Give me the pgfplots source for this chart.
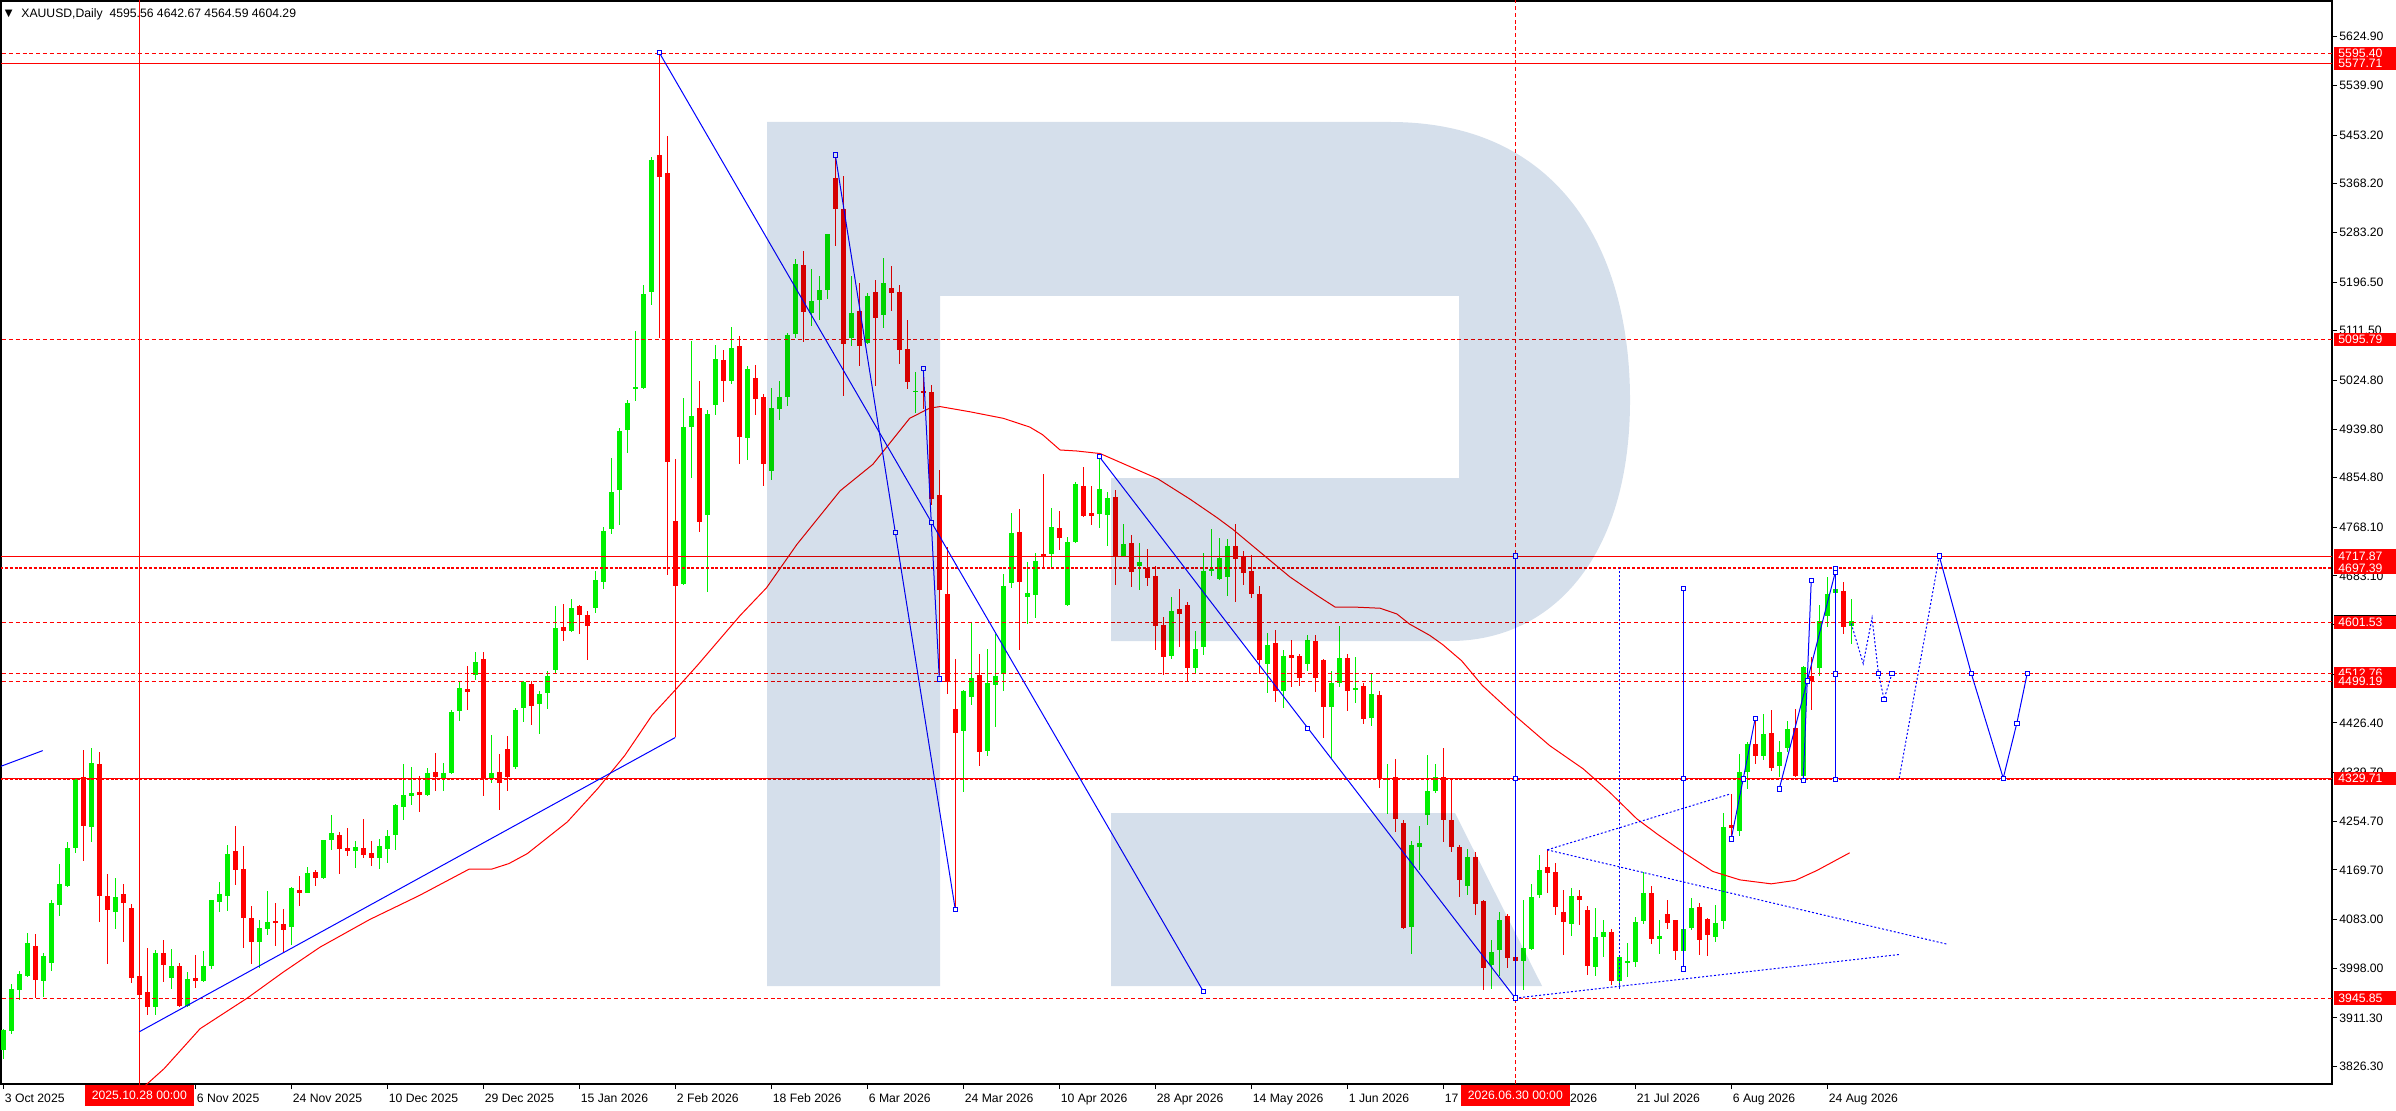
\documentclass[border=0pt]{standalone}
\usepackage{fontspec}
\setmainfont{Liberation Sans}
\newfontfamily\dejavu{DejaVu Sans}
\usepackage{pgfplots}
\usepackage{pgfplotstable}
\pgfplotsset{compat=1.18}

\definecolor{upc}{RGB}{0,240,0}
\definecolor{dnc}{RGB}{255,0,0}
\definecolor{wm}{RGB}{213,223,235}
\definecolor{lvl}{RGB}{255,0,0}
\definecolor{bl}{RGB}{0,0,255}
\newcommand\tf{\fontsize{6.1}{7.3}\selectfont}

% daily candles, bar index from 3 Oct 2025
\pgfplotstableread{
i o h l c
0 3854.6 3892.4 3838.9 3889.5
1 3887.7 3970.9 3883.7 3962.2
2 3959.3 3992.4 3941.8 3988.3
3 3983.7 4059.9 3982.0 4042.4
4 4037.2 4058.1 3945.9 3976.7
5 3975.0 4023.8 3947.0 4019.7
6 4006.4 4118.0 3992.4 4112.2
7 4109.3 4180.3 4090.1 4145.4
8 4141.9 4218.6 4139.5 4208.2
9 4208.2 4330.0 4200.0 4328.6
10 4332.1 4379.2 4186.1 4247.1
11 4245.4 4382.7 4218.6 4356.5
12 4354.8 4375.1 4079.6 4125.0
13 4124.4 4162.8 4005.2 4100.6
14 4095.4 4155.8 4065.7 4122.7
15 4127.9 4145.4 4043.0 4112.8
16 4103.5 4110.5 3971.4 3980.2
17 3984.8 3988.0 3947.6 3950.5
18 3956.9 4032.5 3915.6 3929.6
19 3929.6 4029.0 3915.6 4025.5
20 4025.0 4047.7 3973.8 4002.9
21 3980.2 4031.9 3962.2 4002.3
22 4002.3 4007.5 3929.6 3932.5
23 3931.3 3991.8 3929.6 3979.6
24 3981.4 4021.5 3963.9 3976.1
25 3976.1 4028.5 3974.4 4002.3
26 4001.1 4117.5 3997.1 4117.5
27 4114.0 4148.9 4096.5 4127.9
28 4124.4 4213.4 4098.8 4197.7
29 4202.9 4246.5 4143.6 4170.4
30 4171.5 4211.7 4032.5 4084.9
31 4086.0 4107.0 4005.8 4044.2
32 4043.0 4082.5 3998.2 4068.6
33 4067.4 4133.1 4055.2 4079.1
34 4080.8 4112.2 4037.2 4077.3
35 4075.6 4101.8 4025.0 4065.1
36 4070.9 4140.1 4038.9 4138.4
37 4134.9 4159.3 4107.0 4130.2
38 4130.2 4175.0 4129.7 4164.6
39 4166.3 4169.8 4141.9 4155.8
40 4155.8 4222.1 4154.1 4222.1
41 4222.1 4266.3 4204.7 4234.9
42 4230.9 4236.1 4162.8 4207.0
43 4208.2 4243.1 4194.2 4203.5
44 4203.5 4220.4 4173.3 4209.9
45 4208.2 4258.8 4190.7 4196.6
46 4200.0 4220.3 4176.1 4190.7
47 4191.3 4224.4 4170.9 4211.0
48 4207.0 4240.1 4181.4 4229.1
49 4230.2 4285.5 4204.1 4283.8
50 4279.1 4355.3 4256.4 4301.2
51 4299.4 4350.3 4283.3 4303.9
52 4305.6 4334.2 4271.7 4301.1
53 4301.1 4348.4 4299.0 4338.6
54 4340.4 4374.3 4308.3 4331.5
55 4329.7 4356.5 4308.3 4338.6
56 4338.6 4448.4 4336.9 4445.8
57 4446.6 4497.5 4430.6 4486.8
58 4485.9 4526.1 4448.4 4479.7
59 4510.9 4551.1 4502.0 4533.2
60 4537.7 4551.1 4299.4 4328.0
61 4330.6 4405.6 4321.7 4338.6
62 4341.3 4372.5 4274.4 4321.7
63 4381.5 4403.8 4308.3 4332.4
64 4350.3 4452.9 4345.8 4448.4
65 4452.0 4499.0 4427.9 4497.5
66 4494.8 4499.3 4423.4 4455.6
67 4460.0 4481.4 4406.5 4477.0
68 4477.9 4517.2 4451.1 4509.1
69 4518.1 4631.4 4513.6 4593.0
70 4593.9 4634.1 4569.0 4586.8
71 4586.8 4643.0 4585.0 4627.0
72 4630.5 4633.2 4582.3 4615.3
73 4615.3 4622.5 4535.9 4595.7
74 4627.0 4691.2 4618.0 4676.1
75 4672.5 4768.0 4660.9 4761.7
76 4765.3 4888.5 4756.4 4830.5
77 4833.1 4941.1 4771.5 4936.7
78 4938.5 4990.2 4897.4 4985.6
79 5009.9 5111.6 4988.4 5013.4
80 5011.6 5191.1 5009.9 5175.9
81 5178.6 5414.2 5156.3 5409.8
82 5418.7 5597.2 5098.2 5380.3
83 5386.6 5450.8 4685.0 4882.2
84 4779.6 4886.7 4401.1 4665.3
85 4669.8 4994.7 4667.1 4943.8
86 4943.8 5093.8 4854.6 4963.4
87 4976.0 5024.2 4759.9 4776.9
88 4790.3 4972.4 4655.5 4966.1
89 4982.2 5086.6 4964.3 5062.5
90 5059.9 5077.7 4986.6 5024.2
91 5024.2 5118.8 5018.8 5082.2
92 5084.9 5102.7 4878.7 4925.9
93 4923.7 5050.3 4885.3 5044.1
94 5029.8 5052.1 4963.8 4992.3
95 4995.0 5001.3 4840.7 4878.2
96 4866.6 5012.0 4851.4 4977.2
97 4974.5 5023.6 4954.9 4995.0
98 4995.9 5108.3 4980.8 5104.7
99 5105.6 5237.6 5099.4 5228.7
100 5226.0 5250.1 5092.2 5144.0
101 5142.2 5218.9 5119.0 5163.6
102 5164.5 5206.4 5129.7 5183.2
103 5183.2 5281.3 5166.3 5281.3
104 5377.6 5418.6 5259.9 5324.1
105 5324.1 5381.2 4996.8 5088.7
106 5098.5 5206.4 5084.2 5143.1
107 5145.7 5195.7 5050.3 5085.1
108 5090.4 5176.9 5088.0 5172.5
109 5179.6 5201.0 5014.6 5134.1
110 5138.6 5239.4 5117.2 5195.7
111 5185.9 5224.2 5145.7 5177.8
112 5178.7 5192.1 5053.0 5077.9
113 5079.7 5129.7 5010.2 5021.8
114 5004.8 5038.7 4967.4 5006.6
115 5006.6 5045.9 4974.5 5003.9
116 5004.8 5016.4 4806.8 4817.6
117 4824.7 4867.5 4510.8 4657.9
118 4650.8 4733.7 4476.9 4497.4
119 4450.1 4537.5 4100.6 4408.2
120 4411.8 4484.0 4305.6 4481.4
121 4471.5 4603.5 4457.3 4504.5
122 4509.9 4546.5 4352.0 4375.3
123 4377.0 4555.4 4368.1 4496.5
124 4492.9 4582.1 4418.9 4509.0
125 4512.5 4686.4 4481.4 4665.9
126 4671.3 4793.5 4662.4 4758.7
127 4760.5 4800.6 4553.6 4673.1
128 4647.2 4707.0 4600.0 4652.6
129 4649.9 4723.0 4608.9 4708.8
130 4722.1 4860.4 4698.0 4718.6
131 4722.1 4802.4 4698.0 4769.4
132 4767.6 4796.1 4729.3 4748.9
133 4632.1 4751.6 4630.0 4741.7
134 4742.6 4847.0 4740.9 4843.4
135 4840.7 4873.7 4785.4 4787.2
136 4792.9 4840.7 4771.6 4788.5
137 4790.8 4891.6 4766.7 4835.4
138 4789.9 4829.6 4736.2 4819.5
139 4821.9 4833.7 4668.2 4716.1
140 4718.4 4773.4 4716.1 4739.7
141 4740.9 4755.1 4663.5 4689.5
142 4700.7 4741.5 4658.0 4707.8
143 4697.1 4730.8 4666.4 4678.8
144 4682.9 4700.7 4554.7 4594.9
145 4597.8 4611.4 4510.3 4542.3
146 4544.1 4646.3 4538.1 4622.1
147 4625.6 4661.1 4559.4 4616.2
148 4632.7 4637.5 4498.5 4521.6
149 4521.6 4587.2 4512.7 4555.3
150 4558.8 4722.9 4545.8 4692.4
151 4691.2 4765.7 4683.6 4694.8
152 4677.0 4749.8 4675.9 4714.3
153 4680.6 4748.0 4647.5 4736.2
154 4736.2 4774.6 4636.9 4712.5
155 4717.8 4727.3 4668.2 4687.7
156 4692.4 4719.6 4645.1 4651.0
157 4652.2 4665.8 4511.5 4536.9
158 4528.7 4583.1 4479.6 4563.0
159 4565.9 4589.0 4463.1 4482.0
160 4481.4 4554.7 4453.0 4543.5
161 4545.2 4571.8 4488.5 4540.5
162 4544.1 4547.0 4490.9 4505.6
163 4528.7 4580.1 4518.0 4571.8
164 4569.5 4580.1 4480.8 4505.6
165 4536.9 4538.7 4401.0 4454.2
166 4454.2 4517.5 4365.5 4496.8
167 4495.6 4596.0 4488.5 4539.9
168 4539.9 4547.0 4446.5 4482.6
169 4484.9 4541.7 4461.3 4487.9
170 4491.5 4495.6 4424.7 4433.5
171 4435.9 4514.5 4421.7 4477.3
172 4475.5 4482.0 4312.3 4328.3
173 4327.1 4354.9 4268.0 4329.5
174 4331.2 4363.8 4236.6 4259.1
175 4251.4 4257.4 4067.0 4068.2
176 4070.0 4220.7 4022.7 4213.0
177 4210.1 4246.3 4169.3 4216.6
178 4266.2 4369.7 4248.5 4307.6
179 4308.2 4354.9 4304.6 4331.2
180 4331.2 4382.1 4218.9 4257.4
181 4257.1 4328.7 4200.7 4209.4
182 4209.4 4213.5 4122.2 4151.3
183 4142.5 4206.5 4125.1 4192.0
184 4192.0 4200.7 4090.2 4109.4
185 4114.6 4116.4 3959.2 3998.8
186 4002.9 4046.5 3962.2 4026.2
187 4029.1 4097.1 3983.7 4082.6
188 4088.4 4093.1 3998.8 4016.3
189 4017.4 4032.0 3945.0 4009.9
190 4009.9 4117.5 3959.2 4033.7
191 4030.8 4145.4 4029.1 4122.2
192 4125.1 4196.1 4120.4 4169.9
193 4174.5 4204.8 4129.1 4164.1
194 4165.8 4182.1 4091.6 4104.7
195 4096.0 4134.9 4021.5 4078.5
196 4075.6 4137.9 4053.5 4123.9
197 4123.9 4134.9 4072.7 4117.5
198 4100.1 4105.9 3986.6 4001.2
199 4000.0 4103.0 3984.3 4052.4
200 4052.4 4081.4 4017.4 4061.1
201 4061.1 4065.7 3969.1 3974.9
202 3974.9 4021.5 3965.1 4017.4
203 4007.6 4042.4 3982.5 4009.9
204 4008.7 4087.3 3999.4 4078.5
205 4079.7 4165.8 4075.6 4129.7
206 4129.7 4141.4 4039.5 4048.3
207 4048.3 4082.6 4022.1 4054.1
208 4093.1 4117.5 4066.9 4076.8
209 4081.4 4081.4 4011.6 4027.9
210 4027.9 4090.2 4017.4 4066.9
211 4068.1 4120.4 4064.0 4103.0
212 4104.7 4111.7 4021.5 4046.5
213 4084.3 4085.5 4019.2 4055.2
214 4052.4 4107.6 4043.6 4077.4
215 4079.7 4268.8 4065.7 4244.3
216 4248.4 4302.5 4226.9 4242.6
217 4238.5 4372.3 4229.8 4340.3
218 4340.3 4393.9 4311.2 4389.8
219 4389.8 4433.4 4354.9 4369.4
220 4369.4 4442.2 4362.4 4407.2
221 4409.0 4449.1 4343.3 4347.3
222 4350.8 4395.6 4331.6 4376.4
223 4382.2 4430.5 4375.3 4415.9
224 4417.7 4450.9 4331.6 4333.4
225 4333.4 4526.5 4331.6 4523.6
226 4509.1 4541.1 4449.7 4500.4
227 4521.9 4632.4 4507.9 4605.1
228 4612.6 4680.7 4593.4 4651.6
229 4652.8 4689.4 4610.9 4660.2
230 4657.4 4673.1 4581.7 4593.4
231 4595.56 4642.67 4564.59 4604.29
}\candles

% red price label on the right scale: price, text, colour
\newcommand\plab[3]{%
  \node[fill=#3, text=white, font=\tf, anchor=west, inner xsep=2.2pt,
        inner ysep=0pt, minimum height=6.6pt, text width=26.6pt]
    at (1166.8pt,{(13+(#1-3795.8)*0.286266)*1pt}) {#2};}

\begin{document}
\begin{tikzpicture}
\useasboundingbox (0,0) rectangle (1198pt,555pt);
\begin{axis}[
  at={(0.5pt,13pt)}, anchor=south west,
  width=1165.5pt, height=541.5pt, scale only axis,
  xmin=-0.29, xmax=291.1, ymin=3795.8, ymax=5687.4,
  axis line style={black, line width=0.6pt},
  tick align=outside, major tick length=2.5pt,
  tick style={black, line width=0.5pt},
  xtick pos=bottom, ytick pos=right, yticklabel pos=right,
  xtick={0,12,...,228},
  xticklabels={3 Oct 2025, {}, 6 Nov 2025, 24 Nov 2025, 10 Dec 2025,
    29 Dec 2025, 15 Jan 2026, 2 Feb 2026, 18 Feb 2026, 6 Mar 2026, 24 Mar 2026,
    10 Apr 2026, 28 Apr 2026, 14 May 2026, 1 Jun 2026, 17 Jun 2026, \hphantom{3 Jul }2026,
    21 Jul 2026, 6 Aug 2026, 24 Aug 2026},
  xticklabel style={font=\tf, anchor=north west, inner sep=0pt, xshift=0.6pt, yshift=-2.2pt},
  ytick={5624.90,5539.90,5453.20,5368.20,5283.20,5196.50,5111.50,5024.80,4939.80,
    4854.80,4768.10,4683.10,4598.10,4511.40,4426.40,4339.70,4254.70,4169.70,
    4083.00,3998.00,3911.30,3826.30},
  yticklabels={5624.90,5539.90,5453.20,5368.20,5283.20,5196.50,5111.50,5024.80,4939.80,
    4854.80,4768.10,4683.10,{},{},4426.40,4339.70,4254.70,4169.70,
    4083.00,3998.00,3911.30,3826.30},
  yticklabel style={font=\tf, anchor=west, inner sep=0pt, xshift=1pt},
  clip=true,
  lv/.style={lvl, line width=0.5pt, dash pattern=on 2pt off 1.4pt},
  ls/.style={lvl, line width=0.5pt},
  ld/.style={lvl, line width=1pt, dash pattern=on 1.5pt off 0.9pt},
  bls/.style={bl, line width=0.5pt, mark=none},
  bld/.style={bl, line width=0.5pt, mark=none, dash pattern=on 1pt off 1pt},
  cndl/.style={only marks, mark=*, mark size=0pt, mark options={draw=none, fill=none}},
]

% wicks and bodies
\addplot[cndl, error bars/.cd, y dir=both, y explicit,
  error mark=none, error bar style={draw=upc, line width=0.5pt}]
  table[x=i, y expr={\thisrow{c}>=\thisrow{o} ? (\thisrow{h}+\thisrow{l})/2 : nan},
        y error expr={(\thisrow{h}-\thisrow{l})/2}] {\candles};
\addplot[cndl, error bars/.cd, y dir=both, y explicit,
  error mark=none, error bar style={draw=dnc, line width=0.5pt}]
  table[x=i, y expr={\thisrow{c}<\thisrow{o} ? (\thisrow{h}+\thisrow{l})/2 : nan},
        y error expr={(\thisrow{h}-\thisrow{l})/2}] {\candles};
\addplot[cndl, error bars/.cd, y dir=both, y explicit,
  error mark=none, error bar style={draw=upc, line width=2.5pt}]
  table[x=i, y expr={\thisrow{c}>=\thisrow{o} ? (\thisrow{o}+\thisrow{c})/2 : nan},
        y error expr={max(abs(\thisrow{c}-\thisrow{o})/2,0.9)}] {\candles};
\addplot[cndl, error bars/.cd, y dir=both, y explicit,
  error mark=none, error bar style={draw=dnc, line width=2.5pt}]
  table[x=i, y expr={\thisrow{c}<\thisrow{o} ? (\thisrow{o}+\thisrow{c})/2 : nan},
        y error expr={max(abs(\thisrow{c}-\thisrow{o})/2,0.9)}] {\candles};

% moving average
\addplot[dnc, line width=0.5pt, mark=none] coordinates {
  (17.5,3790) (20.1,3822.6) (24.6,3892.4) (30.5,3945.9) (35.0,3991.3) (39.6,4034.9)
  (45.8,4083.1) (52,4125) (58.2,4170.9) (61.0,4170.9) (63.2,4180.8) (65.5,4198.2)
  (70.5,4253.5) (74.3,4311.7) (77.7,4369.9) (81.1,4440) (84.0,4484) (86.7,4526)
  (92.1,4614) (95.4,4662.4) (99.2,4738.2) (104.6,4831.8) (108.7,4878.2) (113.3,4958.5)
  (115.8,4976.3) (117.1,4979) (120.8,4970) (125.0,4958.5) (128.3,4943.3) (129.9,4930)
  (132.1,4903.2) (134.2,4901.4) (137.1,4897) (144.3,4853) (148.3,4817.7) (151.7,4785.2)
  (153.7,4764.5) (157.5,4720.2) (160.8,4681.8) (164.2,4649.3) (166.5,4628.6)
  (169.2,4628.6) (172.1,4626.8) (174.2,4616.8) (175.8,4599) (178.3,4579.5)
  (179.9,4563.6) (182.3,4535) (184.9,4491.6) (189.2,4436.3) (193.3,4386.9)
  (197.5,4346.2) (200.8,4305.4) (204.2,4258.9) (206.7,4232.8) (210.0,4200.7)
  (213.7,4167.0) (217.1,4152.3) (221.0,4145.4) (224.0,4151.4) (226.7,4168.7)
  (230.8,4199.6)};

% horizontal levels
\addplot[lv] coordinates {(-1,5595.40) (292,5595.40)};
\addplot[ls] coordinates {(-1,5577.71) (292,5577.71)};
\addplot[lv] coordinates {(-1,5095.79) (292,5095.79)};
\addplot[ls] coordinates {(-1,4717.87) (292,4717.87)};
\addplot[ld] coordinates {(-1,4697.39) (292,4697.39)};
\addplot[lv] coordinates {(-1,4601.53) (292,4601.53)};
\addplot[lv] coordinates {(-1,4512.76) (292,4512.76)};
\addplot[lv] coordinates {(-1,4499.19) (292,4499.19)};
\addplot[ls] coordinates {(-1,4329.71) (292,4329.71)};
\addplot[ld] coordinates {(-1,4328.8) (292,4328.8)};
\addplot[lv] coordinates {(-1,3945.85) (292,3945.85)};
% vertical time lines
\addplot[ls] coordinates {(17,3700) (17,5800)};
\addplot[lv] coordinates {(189,3700) (189,5800)};

% blue analysis objects
\addplot[bls] coordinates {(-0.5,4349.7) (4.93,4378.1)};
\addplot[bls] coordinates {(17,3887) (84,4401)};
\addplot[bls] coordinates {(82,5597.2) (150,3957.7)};
\addplot[bls] coordinates {(104,5418.6) (119,4100.5)};
\addplot[bls] coordinates {(115,5045.9) (116,4776.5) (117,4503.6)};
\addplot[bls] coordinates {(137,4891.6) (189,3945.85)};
\addplot[bls] coordinates {(189,3945.85) (189,4717.87)};
\addplot[bls] coordinates {(210,3997.1) (210,4661.5)};
\addplot[bld] coordinates {(202,3961) (202,4697.39)};
\addplot[bld] coordinates {(189,3945.85) (237,4022)};
\addplot[bld] coordinates {(193,4204.8) (215.9,4302.5)};
\addplot[bld] coordinates {(193,4204.8) (243,4040)};
\addplot[bls] coordinates {(216,4224) (217.5,4329) (219,4434.6)};
\addplot[bls] coordinates {(222,4311.2) (225.5,4500.1) (229,4689.4)};
\addplot[bls] coordinates {(225,4325.8) (226,4675.5)};
\addplot[bls] coordinates {(229,4327.6) (229,4696.4)};
\addplot[bld] coordinates {(231,4600) (232.5,4530) (233.6,4610) (234.4,4513) (235.1,4468) (236.1,4513)};
\addplot[bld] coordinates {(237,4330) (242,4718)};
\addplot[bls] coordinates {(242,4718) (246,4513) (250,4330) (251.7,4426) (253,4513)};
\addplot[only marks, mark=square*, mark size=1.1pt,
  mark options={fill=white, draw=bl, line width=0.4pt}] coordinates {
  (82,5597.2) (150,3957.7) (104,5418.6) (111.5,4759) (119,4100.5) (115,5045.9)
  (116,4776.5) (117,4503.6) (137,4891.6) (163,4417) (189,3945.85) (189,4329.71)
  (189,4717.87) (210,3997.1) (210,4329.9) (210,4661.5) (216,4224) (217.5,4329)
  (219,4434.6) (222,4311.2) (225,4325.8) (225.5,4500.1) (226,4675.5) (229,4327.6)
  (229,4512) (229,4689.4) (229,4696.4) (234.4,4513) (235.1,4468) (236.1,4513)
  (242,4718) (246,4513) (250,4330) (251.7,4426) (253,4513)};
\end{axis}

% watermark letter
\begin{scope}[blend mode=multiply]
\fill[wm] (383.5pt,494pt) -- (695pt,494pt)
  .. controls (780pt,494pt) and (815pt,430pt) .. (815pt,355pt)
  .. controls (815pt,275pt) and (775pt,234.5pt) .. (725pt,234.5pt)
  -- (555.5pt,234.5pt) -- (555.5pt,316pt) -- (729.5pt,316pt) -- (729.5pt,407pt)
  -- (470pt,407pt) -- (470pt,62pt) -- (383.5pt,62pt) -- cycle;
\fill[wm] (555.5pt,148.5pt) -- (727.5pt,148.5pt) -- (771pt,62pt) -- (555.5pt,62pt) -- cycle;
\end{scope}

% title
\node[anchor=west, inner sep=0pt, font=\dejavu\fontsize{5}{6}\selectfont] at (2.2pt,548pt) {▼};
\node[anchor=west, inner sep=0pt, font=\tf] at (10.5pt,548pt)
  {XAUUSD,Daily\ \ 4595.56 4642.67 4564.59 4604.29};

% right scale labels
\plab{5595.40}{5595.40}{red}
\plab{5577.71}{5577.71}{red}
\plab{5095.79}{5095.79}{red}
\plab{4717.87}{4717.87}{red}
\plab{4697.39}{4697.39}{red}
\plab{4604.29}{4604.29}{black}
\plab{4601.53}{4601.53}{red}
\plab{4512.76}{4512.76}{red}
\plab{4499.19}{4499.19}{red}
\plab{4329.71}{4329.71}{red}
\plab{3945.85}{3945.85}{red}

% time labels of the vertical lines
\node[fill=red, text=white, font=\tf, anchor=north, inner sep=0pt,
  minimum width=54.5pt, minimum height=10.5pt] at (69.66pt,12.7pt) {2025.10.28 00:00};
\node[fill=red, text=white, font=\tf, anchor=north, inner sep=0pt,
  minimum width=54.5pt, minimum height=10.5pt] at (757.66pt,12.7pt) {2026.06.30 00:00};
\end{tikzpicture}
\end{document}
